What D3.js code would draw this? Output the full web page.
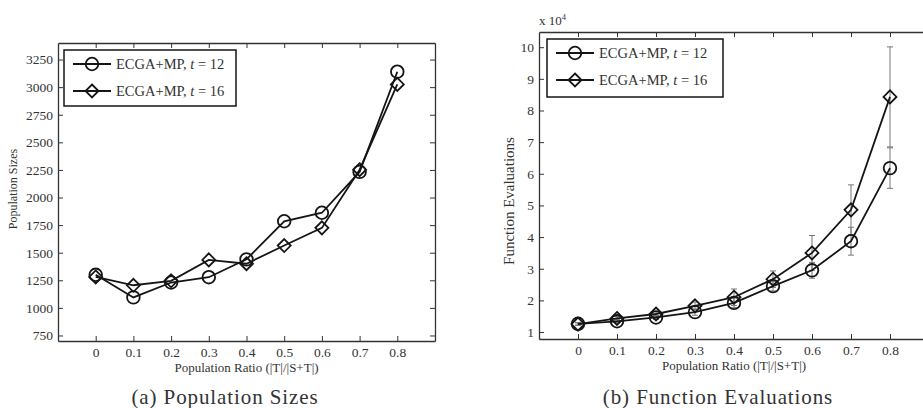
<!DOCTYPE html>
<html><head><meta charset="utf-8">
<script src="https://cdn.jsdelivr.net/npm/d3@7"></script>
<style>
body{margin:0;background:#fff;}
svg{display:block;}
text{font-family:"Liberation Serif","Times New Roman",serif;fill:#333;}
</style></head>
<body>
<svg id="c" width="923" height="408"></svg>
<script>
// ---- data ----
const ratios = [0, 0.1, 0.2, 0.3, 0.4, 0.5, 0.6, 0.7, 0.8];
const xTicks = [0, 0.1, 0.2, 0.3, 0.4, 0.5, 0.6, 0.7, 0.8];
const seriesNames = ["ECGA+MP, ", "ECGA+MP, "];
const seriesT = ["12", "16"];
// (a) population sizes
const popT12 = [1300, 1095, 1230, 1278, 1440, 1785, 1862, 2232, 3140];
const popT16 = [1280, 1205, 1245, 1435, 1400, 1565, 1725, 2252, 3025];
const popTicks = [750, 1000, 1250, 1500, 1750, 2000, 2250, 2500, 2750, 3000, 3250];
// (b) function evaluations (x 10^4)
const feT12 = [1.26, 1.34, 1.46, 1.63, 1.92, 2.45, 2.95, 3.87, 6.18];
const feT16 = [1.25, 1.43, 1.57, 1.83, 2.10, 2.67, 3.50, 4.86, 8.43];
const feErrT12 = [0.04, 0.05, 0.06, 0.10, 0.15, 0.15, 0.25, 0.44, 0.64];
const feErrT16 = [0.04, 0.06, 0.08, 0.12, 0.26, 0.26, 0.55, 0.79, 1.58];
const feTicks = [1, 2, 3, 4, 5, 6, 7, 8, 9, 10];

const svg = d3.select("#c");

function panel(opt){
  const g = svg.append("g");
  const x = d3.scaleLinear().domain([-0.1, 0.9]).range([opt.left, opt.right]);
  const y = d3.scaleLinear().domain(opt.yDomain).range([opt.bottom, opt.top]);
  const tl = 5;
  const ax = g.append("g").attr("transform", `translate(0,${opt.bottom})`)
    .call(d3.axisBottom(x).tickValues(xTicks).tickSizeInner(-tl).tickSizeOuter(0).tickPadding(6)
      .tickFormat(d => d === 0 ? "0" : d3.format(".1f")(d)));
  const ay = g.append("g").attr("transform", `translate(${opt.left},0)`)
    .call(d3.axisLeft(y).tickValues(opt.yTicks).tickSizeInner(-tl).tickSizeOuter(0).tickPadding(5)
      .tickFormat(d3.format("d")));
  const at = g.append("g").attr("transform", `translate(0,${opt.top})`)
    .call(d3.axisTop(x).tickValues(xTicks).tickSizeInner(-tl).tickSizeOuter(0).tickFormat(""));
  const ar = g.append("g").attr("transform", `translate(${opt.right},0)`)
    .call(d3.axisRight(y).tickValues(opt.yTicks).tickSizeInner(-tl).tickSizeOuter(0).tickFormat(""));
  [ax, ay, at, ar].forEach(a => {
    a.attr("font-family", "Liberation Serif, serif");
    a.selectAll(".domain").attr("stroke", "#333").attr("stroke-width", 1.3);
    a.selectAll(".tick line").attr("stroke", "#333");
    a.selectAll("text").attr("font-size", opt.tickFs).attr("fill", "#333");
  });
  // axis titles
  g.append("text").attr("x", (opt.left + opt.right) / 2).attr("y", opt.bottom + 31)
    .attr("text-anchor", "middle").attr("font-size", 13).text("Population Ratio (|T|/|S+T|)");
  g.append("text").attr("transform", `translate(${opt.ylabX},${opt.ylabY}) rotate(-90)`)
    .attr("text-anchor", "middle").attr("font-size", opt.ylabFs).text(opt.ylabel);
  // caption
  g.append("text").attr("x", opt.capX).attr("y", 404).attr("text-anchor", "middle")
    .attr("font-size", 21).attr("letter-spacing", 0.9).attr("fill", "#222")
    .text(opt.caption);

  const clipId = "clip" + opt.id;
  svg.append("defs").append("clipPath").attr("id", clipId).append("rect")
    .attr("x", opt.left).attr("y", opt.top).attr("width", opt.right - opt.left).attr("height", opt.bottom - opt.top);
  const pg = g.append("g").attr("clip-path", `url(#${clipId})`);

  // error bars
  if (opt.err) {
    opt.series.forEach((s, si) => {
      const eg = pg.append("g").attr("stroke", "#777").attr("stroke-width", 1);
      ratios.forEach((r, i) => {
        const cx = x(r), y1 = y(s[i] - opt.err[si][i]), y2 = y(s[i] + opt.err[si][i]);
        eg.append("line").attr("x1", cx).attr("x2", cx).attr("y1", y1).attr("y2", y2);
        eg.append("line").attr("x1", cx - 3).attr("x2", cx + 3).attr("y1", y1).attr("y2", y1);
        eg.append("line").attr("x1", cx - 3).attr("x2", cx + 3).attr("y1", y2).attr("y2", y2);
      });
    });
  }
  const line = d3.line().x((d, i) => x(ratios[i])).y(d => y(d));
  opt.series.forEach((s, si) => {
    pg.append("path").datum(s).attr("d", line).attr("fill", "none")
      .attr("stroke", "#151515").attr("stroke-width", 1.8);
    const mg = pg.append("g");
    s.forEach((v, i) => drawMarker(mg, si, x(ratios[i]), y(v)));
  });

  // legend
  const lg = g.append("g");
  lg.append("rect").attr("x", opt.leg[0]).attr("y", opt.leg[1]).attr("width", opt.leg[2]).attr("height", opt.leg[3])
    .attr("fill", "#fff").attr("stroke", "#151515").attr("stroke-width", 1.5);
  [0, 1].forEach(k => {
    const ly = opt.leg[1] + 14 + k * 27;
    const lx = opt.leg[0] + 9;
    lg.append("line").attr("x1", lx).attr("x2", lx + 38).attr("y1", ly).attr("y2", ly)
      .attr("stroke", "#151515").attr("stroke-width", 1.8);
    drawMarker(lg, k, lx + 19, ly);
    const t = lg.append("text").attr("x", lx + 43).attr("y", ly + 5).attr("font-size", 14.5).attr("fill", "#333");
    t.append("tspan").text(seriesNames[k]);
    t.append("tspan").attr("font-style", "italic").text("t");
    t.append("tspan").text(" = " + seriesT[k]);
  });
  return {x, y, g};
}

function drawMarker(sel, k, cx, cy){
  if (k === 0) {
    sel.append("circle").attr("cx", cx).attr("cy", cy).attr("r", 6.3)
      .attr("fill", "none").attr("stroke", "#151515").attr("stroke-width", 1.8);
  } else {
    const r = 6.5;
    sel.append("path").attr("d", `M${cx},${cy - r}L${cx + r},${cy}L${cx},${cy + r}L${cx - r},${cy}Z`)
      .attr("fill", "none").attr("stroke", "#151515").attr("stroke-width", 1.8);
  }
}

panel({id: "a", left: 58, right: 435, top: 43, bottom: 341, yDomain: [700, 3400], yTicks: popTicks, tickFs: 13.5,
  series: [popT12, popT16], ylabel: "Population Sizes", ylabX: 17, ylabY: 189, ylabFs: 12,
  caption: "(a) Population Sizes", capX: 225, leg: [64, 50, 172, 56]});
panel({id: "b", left: 539, right: 929, top: 32, bottom: 339, yDomain: [0.78, 10.48], yTicks: feTicks, tickFs: 13.5,
  series: [feT12, feT16], err: [feErrT12, feErrT16], ylabel: "Function Evaluations", ylabX: 514, ylabY: 201, ylabFs: 15,
  caption: "(b) Function Evaluations", capX: 718, leg: [547, 39, 176, 58]});
// exponent label
const ex = svg.append("text").attr("x", 539).attr("y", 25).attr("font-size", 13).attr("fill", "#333");
ex.append("tspan").text("x 10");
ex.append("tspan").attr("font-size", 8.5).attr("dy", -5).text("4");
</script>
</body></html>
